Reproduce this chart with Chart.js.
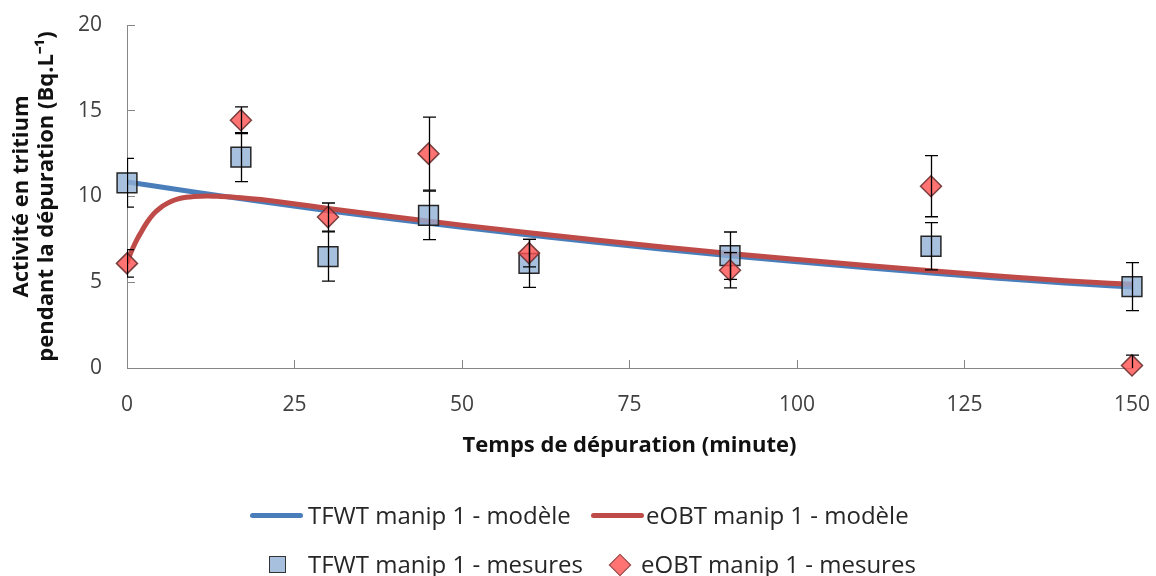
<!DOCTYPE html>
<html><head><meta charset="utf-8">
<script src="https://cdn.jsdelivr.net/npm/chart.js@4"></script>
<style>
html,body{margin:0;padding:0;background:#fff;}
#wrap{position:relative;width:1156px;height:576px;overflow:hidden;}
#c{position:absolute;left:0;top:0;}
.lg{position:absolute;font-family:'Open Sans',sans-serif;font-size:24px;color:#262626;white-space:nowrap;line-height:30px;height:30px;}
.ln{position:absolute;height:5px;border-radius:3px;}
.sq{position:absolute;width:15px;height:15px;border:1.5px solid #333;background:rgb(167,192,222);}
.dm{position:absolute;width:14px;height:14px;border:1.5px solid #8a4a4a;background:rgb(255,115,115);transform:rotate(45deg);}
</style></head><body>
<div id="wrap"><canvas id="c" width="1156" height="576"></canvas>
<div id="legend"></div></div>
<script>
// ---- data ----
const xTicks = [0, 25, 50, 75, 100, 125, 150];
const yTicks = [0, 5, 10, 15, 20];
const measureTimes = [0, 17, 30, 45, 60, 90, 120, 150];
const tfwtMeasures = [10.8, 12.3, 6.5, 8.9, 6.1, 6.55, 7.1, 4.75];
const tfwtErrors   = [1.42, 1.43, 1.44, 1.41, 1.4, 1.38, 1.38, 1.4];
const eobtMeasures = [6.1, 14.45, 8.8, 12.5, 6.7, 5.7, 10.6, 0.15];
const eobtErrors   = [0.8, 0.78, 0.82, 2.13, 0.8, 1.03, 1.78, 0.6];
const tfwtModelTimes = [0, 10, 20, 30, 40, 50, 60, 70, 80, 90, 100, 110, 120, 130, 140, 150];
const tfwtModelValues = [10.85, 10.26, 9.7, 9.17, 8.67, 8.2, 7.75, 7.33, 6.93, 6.55, 6.2, 5.86, 5.54, 5.24, 4.95, 4.72];
const eobtModelTimes = [0, 0.5, 1, 1.5, 2, 3, 4, 5, 6, 7, 8, 10, 12, 14, 17, 20, 30, 40, 50, 60, 70, 80, 90, 100, 110, 120, 130, 140, 150];
const eobtModelValues = [6.1, 6.65, 7.1, 7.5, 7.85, 8.5, 9.0, 9.35, 9.6, 9.78, 9.9, 10.0, 10.03, 10.0, 9.93, 9.82, 9.3, 8.8, 8.33, 7.88, 7.46, 7.06, 6.68, 6.33, 5.99, 5.67, 5.37, 5.09, 4.88];
const seriesNames = ['TFWT manip 1 - modèle', 'eOBT manip 1 - modèle', 'TFWT manip 1 - mesures', 'eOBT manip 1 - mesures'];
const xTitle = 'Temps de dépuration (minute)';
const yTitle = ['Activité en tritium', 'pendant la dépuration (Bq.L⁻¹)'];

const BLUE = '#4a7ebb', RED = '#be4b48';
const pts = (xs, ys) => xs.map((x, i) => ({x, y: ys[i]}));

const errorBars = {
  id: 'errorBars',
  afterDatasetsDraw(chart) {
    const {ctx, chartArea, scales: {x, y}} = chart;
    ctx.save();
    ctx.beginPath();
    ctx.rect(chartArea.left, chartArea.top - 2, chartArea.right - chartArea.left + 20, chartArea.bottom - chartArea.top + 2);
    ctx.clip();
    ctx.strokeStyle = '#000';
    ctx.lineWidth = 1.3;
    [[tfwtMeasures, tfwtErrors], [eobtMeasures, eobtErrors]].forEach(([vals, errs]) => {
      vals.forEach((v, i) => {
        const px = Math.round(x.getPixelForValue(measureTimes[i])) + 0.5;
        const t = y.getPixelForValue(v + errs[i]);
        const b = y.getPixelForValue(v - errs[i]);
        ctx.beginPath();
        ctx.moveTo(px, t); ctx.lineTo(px, b);
        ctx.moveTo(px - 6.5, t); ctx.lineTo(px + 6.5, t);
        ctx.moveTo(px - 6.5, b); ctx.lineTo(px + 6.5, b);
        ctx.stroke();
      });
    });
    ctx.restore();
  }
};

const tickFont = {family: "'Open Sans'", size: 21};
const titleFont = {family: "'Open Sans'", size: 22, weight: 'bold', lineHeight: 1.15};
const zeroPad = s => { s.paddingTop = 0; s.paddingBottom = 0; s.paddingLeft = 0; s.paddingRight = 0; };

new Chart(document.getElementById('c'), {
  type: 'scatter',
  data: {
    datasets: [
      {label: seriesNames[0], type: 'line', data: pts(tfwtModelTimes, tfwtModelValues), borderColor: BLUE, borderWidth: 5, pointRadius: 0, cubicInterpolationMode: 'monotone', fill: false, order: 4},
      {label: seriesNames[1], type: 'line', data: pts(eobtModelTimes, eobtModelValues), borderColor: RED, borderWidth: 5, pointRadius: 0, cubicInterpolationMode: 'monotone', fill: false, order: 3},
      {label: seriesNames[2], data: pts(measureTimes, tfwtMeasures), pointStyle: 'rect', pointRadius: 14, pointHoverRadius: 14, backgroundColor: 'rgba(145,176,214,0.8)', borderColor: '#262626', borderWidth: 1.5, order: 2, clip: false},
      {label: seriesNames[3], data: pts(measureTimes, eobtMeasures), pointStyle: 'rectRot', pointRadius: 10.5, pointHoverRadius: 10.5, backgroundColor: 'rgba(255,80,80,0.8)', borderColor: 'rgba(110,50,50,0.9)', borderWidth: 1.5, order: 1, clip: false}
    ]
  },
  options: {
    responsive: false,
    animation: false,
    devicePixelRatio: 1,
    layout: {padding: {top: 25, right: 24, bottom: 0, left: 0}},
    plugins: {legend: {display: false}, tooltip: {enabled: false}},
    scales: {
      x: {
        type: 'linear', min: 0, max: 150,
        afterBuildTicks: s => { s.ticks = xTicks.map(v => ({value: v})); },
        afterFit: s => { s.height = 208; zeroPad(s); },
        grid: {drawOnChartArea: false, tickLength: -8, color: '#868686', lineWidth: 1},
        border: {color: '#868686', width: 1},
        ticks: {font: tickFont, color: '#404040', padding: 32, maxRotation: 0},
        title: {display: true, text: xTitle, font: titleFont, color: '#111', padding: {top: 0, bottom: 118}}
      },
      y: {
        min: 0, max: 20,
        afterBuildTicks: s => { s.ticks = yTicks.map(v => ({value: v})); },
        afterFit: s => { s.width = 127; zeroPad(s); },
        grid: {drawOnChartArea: false, tickLength: -8, color: '#868686', lineWidth: 1},
        border: {color: '#868686', width: 1},
        ticks: {font: tickFont, color: '#404040', padding: 33},
        title: {display: true, text: yTitle, font: titleFont, color: '#111', padding: {top: 9, bottom: 0}}
      }
    }
  },
  plugins: [errorBars]
});

// HTML legend (two rows as in the reference)
const lg = document.getElementById('legend');
const add = (html) => { lg.insertAdjacentHTML('beforeend', html); };
add(`<div class="ln" style="left:250px;top:513px;width:53px;background:${BLUE}"></div>`);
add(`<div class="lg" style="left:308px;top:500px">${seriesNames[0]}</div>`);
add(`<div class="ln" style="left:591px;top:513px;width:53px;background:${RED}"></div>`);
add(`<div class="lg" style="left:646px;top:500px">${seriesNames[1]}</div>`);
add(`<div class="sq" style="left:269px;top:556px"></div>`);
add(`<div class="lg" style="left:308px;top:549px">${seriesNames[2]}</div>`);
add(`<div class="dm" style="left:612px;top:557px"></div>`);
add(`<div class="lg" style="left:641px;top:549px">${seriesNames[3]}</div>`);
</script>
</body></html>
